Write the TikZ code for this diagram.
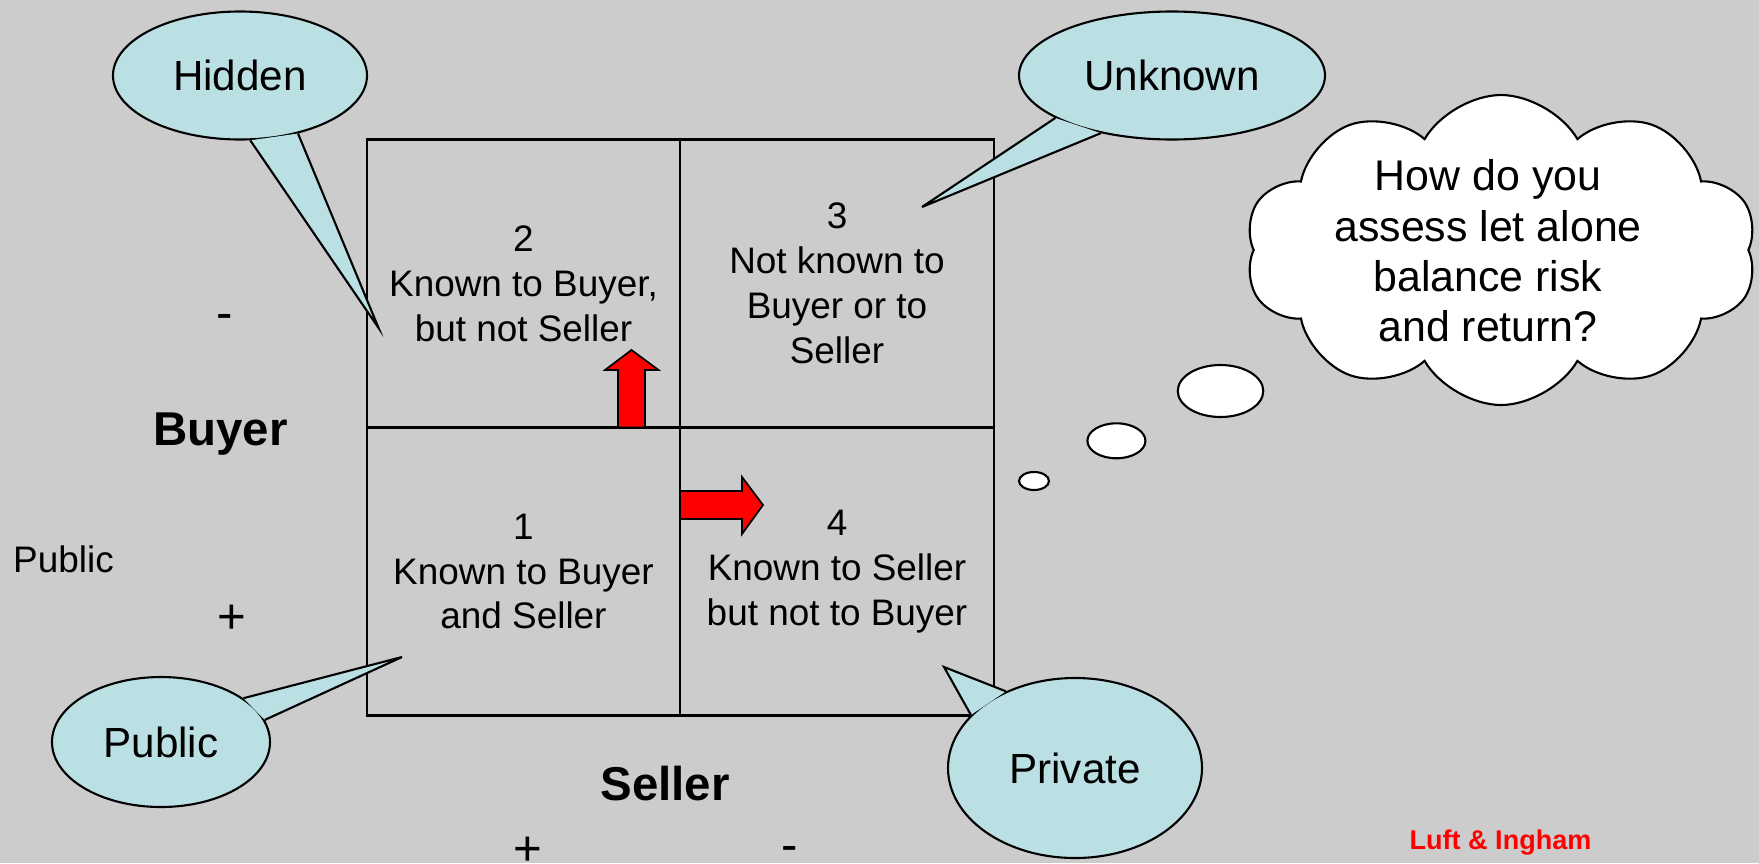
\documentclass[tikz,border=0pt]{standalone}
\usepackage{fontspec}
\setmainfont{Liberation Sans}
\usetikzlibrary{positioning,shapes.geometric,shapes.symbols}

\definecolor{bggray}{RGB}{204,204,204}
\definecolor{calloutblue}{RGB}{187,224,228}
\definecolor{arrowred}{RGB}{255,0,0}

\begin{document}
\begin{tikzpicture}[line width=0.6pt,
  cellbox/.style={draw=black, minimum width=3.135cm, minimum height=2.88cm, inner sep=0pt, outer sep=0pt, align=center, font=\fontsize{10.5}{12.76}\selectfont},
  callout/.style={ellipse, draw=black, fill=calloutblue, inner sep=0pt, font=\fontsize{12}{14}\selectfont},
  bubble/.style={ellipse, draw=black, fill=white, inner sep=0pt},
  axislabel/.style={anchor=base, font=\fontsize{13.5}{16}\selectfont\bfseries},
  sign/.style={anchor=base, font=\fontsize{14}{16}\selectfont},
  redarrow/.style={draw=black, fill=arrowred, line width=0.5pt}]

  \fill [bggray] (0,0) rectangle (17.59,-8.63);
  \useasboundingbox (0,0) rectangle (17.59,-8.63);

  % the four windows
  \node (cell2) [cellbox] at (5.235,-2.835) {2\\Known to Buyer,\\but not Seller};
  \node (cell3) [cellbox, right=0pt of cell2] {3\\Not known to\\Buyer or to\\Seller};
  \node (cell1) [cellbox, below=0pt of cell2] {1\\Known to Buyer\\and Seller};
  \node (cell4) [cellbox, right=0pt of cell1] {4\\Known to Seller\\but not to Buyer};

  % moving the boundaries
  \draw [redarrow] (6.18,-4.275) -- (6.18,-3.70) -- (6.05,-3.70) -- (6.315,-3.50)
    -- (6.585,-3.70) -- (6.45,-3.70) -- (6.45,-4.275) -- cycle;
  \draw [redarrow] (6.80,-4.91) -- (7.42,-4.91) -- (7.42,-4.77) -- (7.63,-5.05)
    -- (7.42,-5.34) -- (7.42,-5.19) -- (6.80,-5.19) -- cycle;

  % axes
  \node (buyer) [axislabel] at (2.205,-4.457) {Buyer};
  \node (seller) [axislabel] at (6.65,-8.00) {Seller};
  \node (publiclabel) [anchor=base, font=\fontsize{10.5}{12}\selectfont] at (0.635,-5.723) {Public};
  \node (buyerminus) [sign] at (2.25,-3.297) {-};
  \node (buyerplus) [sign] at (2.315,-6.333) {+};
  \node (sellerplus) [sign] at (5.275,-8.655) {+};
  \node (sellerminus) [sign] at (7.895,-8.615) {-};

  % callouts
  \node (hidden) [callout, minimum width=2.54cm, minimum height=1.28cm] at (2.40,-0.755) {Hidden};
  \node (unknown) [callout, minimum width=3.06cm, minimum height=1.28cm] at (11.72,-0.755) {Unknown};
  \node (public) [callout, minimum width=2.18cm, minimum height=1.30cm] at (1.61,-7.42) {Public};
  \node (private) [callout, minimum width=2.54cm, minimum height=1.80cm] at (10.75,-7.68) {Private};

  \coordinate (hidden-tip) at (3.786,-3.28);
  \coordinate (unknown-tip) at (9.22,-2.07);
  \coordinate (public-tip) at (4.02,-6.57);
  \coordinate (private-tip) at (9.44,-6.67);

  \foreach \c/\a/\b in {hidden/-81/-45.5, unknown/200/219, public/28.5/12, private/132/153} {
    \fill [calloutblue] (\c.\a) -- (\c-tip) -- (\c.\b) -- cycle;
    \draw (\c.\a) -- (\c-tip) -- (\c.\b);
  }

  % thinking
  \node (thought) [cloud, cloud puffs=10, cloud puff arc=120, cloud ignores aspect, draw=black, fill=white,
    inner sep=0pt, minimum width=5.12cm, minimum height=3.10cm] at (15.01,-2.50) {};
  \node (question) [align=center, font=\fontsize{12.2}{14.3}\selectfont] at (14.88,-2.51)
    {How do you\\assess let alone\\balance risk\\and return?};
  \node (bubble1) [bubble, minimum width=0.855cm, minimum height=0.52cm] at (12.205,-3.91) {};
  \node (bubble2) [bubble, minimum width=0.58cm, minimum height=0.35cm] at (11.164,-4.408) {};
  \node (bubble3) [bubble, minimum width=0.30cm, minimum height=0.18cm] at (10.34,-4.81) {};

  \node (credit) [anchor=base, text=arrowred, font=\fontsize{7.7}{9}\selectfont\bfseries] at (15.005,-8.493) {Luft \& Ingham};

\end{tikzpicture}
\end{document}
